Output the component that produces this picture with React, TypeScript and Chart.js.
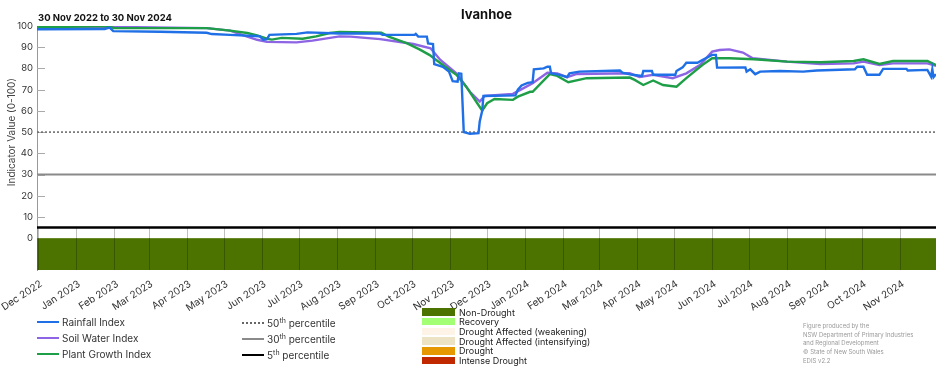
import React, { useEffect, useRef } from "react";
import { Chart, registerables } from "chart.js";
Chart.register(...registerables);

const TITLE = "Ivanhoe";
const SUBTITLE = "30 Nov 2022 to 30 Nov 2024";
const Y_TITLE = "Indicator Value (0-100)";
const TOTAL_DAYS = 731;

const monthLabels = [
  "Dec 2022", "Jan 2023", "Feb 2023", "Mar 2023", "Apr 2023", "May 2023", "Jun 2023", "Jul 2023",
  "Aug 2023", "Sep 2023", "Oct 2023", "Nov 2023", "Dec 2023", "Jan 2024", "Feb 2024", "Mar 2024",
  "Apr 2024", "May 2024", "Jun 2024", "Jul 2024", "Aug 2024", "Sep 2024", "Oct 2024", "Nov 2024",
];
const yTickValues = [0, 10, 20, 30, 40, 50, 60, 70, 80, 90, 100];

// day offsets from 30 Nov 2022
const rainfallDays = [0,55,59,62,100,138,142,157,181,184,187,189,211,220,246,279,281,307,308,310,317,318,322,323,330,335,338,342,343,345,347,352,359,360,362,363,389,391,394,399,403,404,412,415,417,418,425,431,433,441,474,476,484,492,493,500,501,519,520,525,528,537,541,549,552,553,576,577,580,584,588,604,623,634,665,667,672,675,685,688,707,708,724,727,728,729,731];
const rainfallValues = [98.5,98.6,99.2,97.6,97.3,96.8,96.2,95.8,95.2,93.5,93.8,95.8,96.3,97,96.5,96.5,95.8,95.8,96.3,95,95,91.8,91.5,82,80.8,78.5,74,73.8,77.7,77.5,50,49.2,49.5,55,60,67,67.3,70,72,73.2,73.5,79.6,80,80.8,80.8,77.7,77,75.9,77.7,78.5,79,78,77,76.5,78.8,78.8,77,77,78.8,80.5,82.7,82.7,84,86.4,86.4,80.4,80.5,78.5,79.6,77.3,78.5,78.8,78.5,79,79.6,80.8,80.8,77,77,79.8,79.8,79,79.3,76.1,79.6,75.9,77.3];

const soilDays = [0,59,138,157,168,179,187,211,224,246,255,279,306,320,328,341,352,360,364,387,393,403,415,423,431,439,482,490,501,517,528,539,549,555,563,574,582,610,637,664,672,685,696,724,731];
const soilValues = [99.4,99.6,99,97.8,95.6,93.5,92.5,92.3,93.1,95.1,95,93.8,91.5,89.5,84,77.7,69,64.4,67,68,69.9,73,78,77.7,75.9,77.4,77.7,75.9,77,75.4,77.7,81.6,87.9,88.7,89,87.5,84.8,83.2,82.1,82.4,83.2,81.6,82.4,82.4,81.2];

const plantDays = [0,59,62,138,157,171,179,187,191,199,216,227,238,246,280,286,301,311,319,330,341,349,358,362,366,372,387,391,401,403,417,423,432,447,482,486,493,501,509,520,528,541,549,563,583,610,637,664,672,685,696,724,731];
const plantValues = [99.4,100,99,99,97.8,96.7,95.6,94,93.6,94.4,94,95.1,96.7,97.2,96.9,95,91.8,89,86.4,81.6,77,71.4,63.6,60.1,63.6,65.6,65.2,66.7,69,69,77.3,76.5,73.5,75.4,75.7,74.6,72.2,74.3,72.2,71.4,75.4,81.6,84.8,84.8,84.3,83.2,82.9,83.5,84.3,82.1,83.5,83.5,81.6];

const percentileValues = [50, 30, 5];
const percentileNames = ["50", "30", "5"];

const categoryNames = ["Non-Drought", "Recovery", "Drought Affected (weakening)", "Drought Affected (intensifying)", "Drought", "Intense Drought"];
const categoryColors = ["#4c7300", "#a3ff73", "#fdf3e6", "#ebe3c3", "#e69800", "#c02800"];

const creditLines = ["Figure produced by the", "NSW Department of Primary Industries", "and Regional Development", "\u00a9 State of New South Wales", "EDIS v2.2"];

const BLUE = "#1f6fe6";
const PURPLE = "#8c64e4";
const GREEN = "#1f9e48";
const FONT = "Inter, 'Noto Sans', sans-serif";

const MONTHS = ["Jan","Feb","Mar","Apr","May","Jun","Jul","Aug","Sep","Oct","Nov","Dec"];
const START = Date.UTC(2022, 10, 30);
const tickDays = monthLabels.map((l) => {
  const [m, y] = l.split(" ");
  return Math.round((Date.UTC(+y, MONTHS.indexOf(m), 1) - START) / 86400000);
});

const toPoints = (days: number[], vals: number[]) => days.map((d, i) => ({ x: d, y: vals[i] }));

const backgroundPlugin = {
  id: "bands",
  beforeDatasetsDraw(chart: any) {
    const { ctx, chartArea, scales } = chart;
    const y = scales.y, x = scales.x;
    ctx.save();
    const y0 = y.getPixelForValue(0);
    ctx.fillStyle = categoryColors[0];
    ctx.fillRect(chartArea.left, y0, chartArea.right - chartArea.left, chartArea.bottom - y0);
    const y5 = y.getPixelForValue(5);
    ctx.strokeStyle = "rgba(0,0,0,0.25)";
    ctx.lineWidth = 1;
    tickDays.forEach((d) => {
      const px = Math.round(x.getPixelForValue(d)) + 0.5;
      ctx.beginPath();
      ctx.moveTo(px, y5);
      ctx.lineTo(px, chartArea.bottom);
      ctx.stroke();
    });
    ctx.strokeStyle = "#aaa";
    yTickValues.forEach((v) => {
      if (v === 0) return;
      const py = Math.round(y.getPixelForValue(v)) + 0.5;
      ctx.beginPath();
      ctx.moveTo(chartArea.left, py);
      ctx.lineTo(chartArea.left + 8, py);
      ctx.stroke();
    });
    ctx.restore();
  },
};

const textPlugin = {
  id: "texts",
  afterDraw(chart: any) {
    const { ctx, chartArea, scales } = chart;
    ctx.save();
    ctx.fillStyle = "#111";
    ctx.textBaseline = "middle";
    ctx.textAlign = "center";
    ctx.font = `bold 13px ${FONT}`;
    ctx.fillText(TITLE, (chartArea.left + chartArea.right) / 2, 15);
    ctx.textAlign = "left";
    ctx.font = `bold 9.5px ${FONT}`;
    ctx.fillText(SUBTITLE, 38, 18.5);
    ctx.fillStyle = "#444";
    ctx.font = `10px ${FONT}`;
    ctx.textAlign = "center";
    const cy = (scales.y.getPixelForValue(0) + scales.y.getPixelForValue(100)) / 2;
    ctx.translate(12, cy);
    ctx.rotate(-Math.PI / 2);
    ctx.fillText(Y_TITLE, 0, 0);
    ctx.restore();
  },
};

function LegendLine({ color, dash, width, top, left, children }: any) {
  return (
    <div style={{ position: "absolute", left, top: top - 7, height: 14, display: "flex", alignItems: "center", fontSize: 10, color: "#333", whiteSpace: "nowrap" }}>
      <div style={{ width: 22, height: 0, borderTop: `${width}px ${dash ? "dotted" : "solid"} ${color}`, marginRight: 3 }} />
      <span>{children}</span>
    </div>
  );
}

export default function App() {
  const ref = useRef<HTMLCanvasElement>(null);
  useEffect(() => {
    if (!ref.current) return;
    const chart = new Chart(ref.current, {
      type: "line",
      data: {
        datasets: [
          { label: "Rainfall Index", data: toPoints(rainfallDays, rainfallValues), borderColor: BLUE, borderWidth: 2.4, pointRadius: 0, order: 1 },
          { label: "Plant Growth Index", data: toPoints(plantDays, plantValues), borderColor: GREEN, borderWidth: 2.4, pointRadius: 0, order: 2 },
          { label: "Soil Water Index", data: toPoints(soilDays, soilValues), borderColor: PURPLE, borderWidth: 2.4, pointRadius: 0, order: 3 },
          { label: "50th", data: [{ x: 0, y: percentileValues[0] }, { x: TOTAL_DAYS, y: percentileValues[0] }], borderColor: "#666", borderWidth: 1.5, borderDash: [2, 2], pointRadius: 0, order: 4 },
          { label: "30th", data: [{ x: 0, y: percentileValues[1] }, { x: TOTAL_DAYS, y: percentileValues[1] }], borderColor: "#8a8a8a", borderWidth: 2, pointRadius: 0, order: 5 },
          { label: "5th", data: [{ x: 0, y: percentileValues[2] }, { x: TOTAL_DAYS, y: percentileValues[2] }], borderColor: "#000", borderWidth: 2.5, pointRadius: 0, order: 6 },
        ],
      },
      options: {
        responsive: false,
        animation: false,
        devicePixelRatio: 1,
        layout: { padding: { top: 26, right: 16, left: 0, bottom: 0 } },
        plugins: { legend: { display: false }, tooltip: { enabled: false } },
        elements: { line: { tension: 0 } },
        scales: {
          x: {
            type: "linear",
            min: 0,
            max: TOTAL_DAYS,
            grid: { display: false, drawTicks: false },
            border: { display: false },
            afterBuildTicks: (s: any) => { s.ticks = tickDays.map((d) => ({ value: d })); },
            afterFit: (s: any) => { s.height = 100; s.paddingLeft = 0; s.paddingRight = 0; },
            ticks: {
              autoSkip: false,
              minRotation: 33,
              maxRotation: 33,
              padding: 8,
              labelOffset: 3,
              color: "#333",
              font: { family: FONT, size: 10 },
              callback: (v: any) => { const i = tickDays.indexOf(v); return i >= 0 ? monthLabels[i] : ""; },
            },
          },
          y: {
            type: "linear",
            min: -15,
            max: 100,
            grid: { display: false, drawTicks: false },
            border: { display: true, color: "#999", width: 1 },
            afterBuildTicks: (s: any) => { s.ticks = yTickValues.map((v) => ({ value: v })); },
            afterFit: (s: any) => { s.width = 37; s.paddingTop = 0; s.paddingBottom = 0; },
            ticks: { padding: 4, color: "#333", font: { family: FONT, size: 9.5 } },
          },
        },
      },
      plugins: [backgroundPlugin, textPlugin],
    } as any);
    return () => chart.destroy();
  }, []);

  return (
    <div style={{ position: "absolute", left: 0, top: 0, width: 952, height: 370, background: "#fff", fontFamily: FONT, overflow: "hidden" }}>
      <canvas ref={ref} width={952} height={370} style={{ position: "absolute", left: 0, top: 0 }} />
      <LegendLine color={BLUE} width={2.5} top={322} left={37}>Rainfall Index</LegendLine>
      <LegendLine color={PURPLE} width={2.5} top={338} left={37}>Soil Water Index</LegendLine>
      <LegendLine color={GREEN} width={2.5} top={354} left={37}>Plant Growth Index</LegendLine>
      <LegendLine color="#666" width={2} dash top={323} left={242}>{percentileNames[0]}<sup style={{ fontSize: 7 }}>th</sup> percentile</LegendLine>
      <LegendLine color="#8a8a8a" width={2.5} top={339} left={242}>{percentileNames[1]}<sup style={{ fontSize: 7 }}>th</sup> percentile</LegendLine>
      <LegendLine color="#000" width={2.5} top={355} left={242}>{percentileNames[2]}<sup style={{ fontSize: 7 }}>th</sup> percentile</LegendLine>
      {categoryNames.map((n, i) => (
        <div key={n} style={{ position: "absolute", left: 422, top: 307 + i * 9.7, height: 10, display: "flex", alignItems: "center", fontSize: 9, color: "#222", whiteSpace: "nowrap" }}>
          <div style={{ width: 33, height: 7.5, background: categoryColors[i], marginRight: 4 }} />
          <span>{n}</span>
        </div>
      ))}
      {creditLines.map((t, i) => (
        <div key={t} style={{ position: "absolute", left: 803, top: 322 + i * 8.7, fontSize: 6, lineHeight: "8px", color: "#999", whiteSpace: "nowrap" }}>{t}</div>
      ))}
    </div>
  );
}
